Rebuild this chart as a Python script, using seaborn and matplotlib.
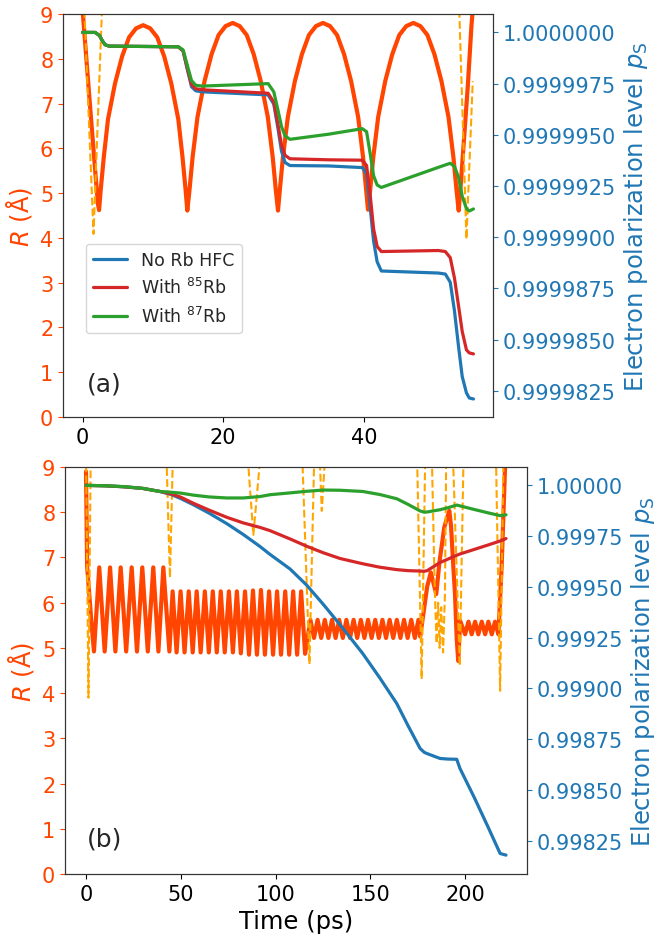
import numpy as np
import pandas as pd
import matplotlib
matplotlib.use("Agg")
import matplotlib.pyplot as plt
import seaborn as sns
from matplotlib.ticker import MultipleLocator, FormatStrFormatter

# ---------------- data : panel (a) ----------------
r_a_time = [0.0, 1.0, 1.9, 2.2, 2.35,
            2.57, 3.02, 3.62, 4.62, 5.62, 6.62, 7.62, 8.62,
            9.62, 10.62, 11.62, 12.62, 13.62, 14.22, 14.67, 14.9,
            15.2, 15.65, 16.35, 17.35, 18.35, 19.35, 20.35, 21.35,
            22.35, 23.35, 24.35, 25.35, 26.35, 27.05, 27.5, 27.8,
            28.05, 28.5, 29.2, 30.2, 31.2, 32.2, 33.2, 34.2,
            35.2, 36.2, 37.2, 38.2, 39.2, 39.9, 40.35, 40.6,
            40.9, 41.35, 42.05, 43.05, 44.05, 45.05, 46.05, 47.05,
            48.05, 49.05, 50.05, 51.05, 52.05, 52.75, 53.2, 53.5,
            53.8, 54.3, 54.8, 55.3, 55.6]
r_a_value = [9.1, 7.08, 5.3, 4.75, 4.62,
             5.05, 5.8, 6.65, 7.45, 8.05, 8.48, 8.68, 8.75,
             8.68, 8.48, 8.05, 7.45, 6.65, 5.8, 5.05, 4.61,
             5.05, 5.8, 6.70, 7.50, 8.10, 8.53, 8.73, 8.80,
             8.73, 8.53, 8.10, 7.50, 6.70, 5.80, 5.05, 4.61,
             5.05, 5.8, 6.70, 7.50, 8.10, 8.53, 8.73, 8.80,
             8.73, 8.53, 8.10, 7.50, 6.70, 5.80, 5.05, 4.63,
             5.05, 5.8, 6.70, 7.50, 8.10, 8.53, 8.73, 8.80,
             8.73, 8.53, 8.10, 7.50, 6.70, 5.80, 5.05, 4.61,
             5.2, 6.3, 7.4, 8.7, 9.3]

dash_a_time = [0.0, 0.28, 1.56, 2.74, 3.0, 53.3, 53.6, 54.6, 55.5]
dash_a_value = [10.1, 9.0, 4.09, 9.0, 10.0, 10.0, 9.0, 3.97, 7.5]

# polarization deficit (1 - p_S) in units of 1e-6
pol_a_time = [0.0, 1.8, 2.4, 2.8, 3.2, 3.8, 13.6, 14.3, 14.9, 15.5, 16.1, 17.0,
              26.4, 27.2, 27.8, 28.3, 28.8, 29.5, 35.0, 39.8, 40.4, 40.9, 41.4,
              41.9, 42.5, 50.6, 51.6, 52.3, 52.9, 53.5, 54.0, 54.6, 55.0, 55.6]
pol_a_blue_deficit = [0, 0, 0.15, 0.4, 0.6, 0.67, 0.70, 0.9, 1.8, 2.65, 2.85, 2.9,
                      3.05, 3.5, 4.7, 5.8, 6.35, 6.5, 6.52, 6.6, 6.9, 8.5, 10.2,
                      11.2, 11.65, 11.75, 11.8, 12.2, 13.6, 15.4, 16.8, 17.6, 17.85, 17.9]
pol_a_red_deficit = [0, 0, 0.15, 0.4, 0.6, 0.67, 0.70, 0.9, 1.75, 2.55, 2.75, 2.8,
                     2.97, 3.4, 4.5, 5.5, 6.0, 6.17, 6.22, 6.24, 6.5, 7.9, 9.6,
                     10.45, 10.7, 10.65, 10.7, 11.0, 12.0, 13.4, 14.6, 15.5, 15.65, 15.7]
pol_a_green_deficit = [0, 0, 0.15, 0.4, 0.6, 0.67, 0.70, 0.85, 1.6, 2.35, 2.58, 2.62,
                       2.5, 2.9, 3.8, 4.6, 5.05, 5.22, 4.97, 4.7, 4.85, 5.9, 7.0,
                       7.45, 7.57, 6.59, 6.47, 6.39, 6.55, 7.1, 8.0, 8.6, 8.72, 8.62]

# ---------------- data : panel (b) ----------------
r_b_time = [0.0, 0.6, 2.8, 4.2,
            7.0, 9.85, 12.7, 15.5, 18.3, 21.2, 24.1, 26.9, 29.7, 32.6, 35.5, 38.2, 40.8, 44.0,
            45.7, 47.8, 49.9, 52.0, 54.2, 56.3, 58.4, 60.5, 62.7, 64.8, 66.9, 69.0,
            71.1, 73.2, 75.4, 77.5, 79.6, 81.7, 83.9, 86.0, 88.1, 90.2, 92.3, 94.4,
            96.6, 98.7, 100.8, 102.9, 105.1, 107.2, 109.3, 111.4, 113.5, 115.6,
            118.4, 120.3, 122.2, 124.1, 126.0, 127.9, 129.8, 131.7, 133.6, 135.5,
            137.4, 139.3, 141.2, 143.1, 145.0, 146.9, 148.8, 150.7, 152.6, 154.5,
            156.4, 158.3, 160.2, 162.1, 164.0, 165.9, 167.8, 169.7, 171.6, 173.5, 175.4,
            176.3, 178.0, 180.0, 181.9, 184.8, 186.5, 187.8, 189.0, 190.3, 191.7,
            192.6, 193.8, 194.7, 195.6, 196.4, 197.4,
            200.0, 201.8, 203.5, 205.3, 207.0, 208.8, 210.6, 212.3, 214.1, 215.8,
            217.6, 219.3, 221.1, 221.6]
r_b_value = [8.9, 6.8, 5.6, 4.92,
             6.78, 4.92, 6.78, 4.92, 6.78, 4.92, 6.78, 4.92, 6.78, 4.92, 6.78, 4.92, 6.78, 4.92,
             6.25, 4.9, 6.25, 4.9, 6.25, 4.9, 6.25, 4.9, 6.25, 4.9, 6.25, 4.9,
             6.25, 4.9, 6.25, 4.9, 6.25, 4.88, 6.25, 4.85, 6.27, 4.85, 6.28, 4.85,
             6.25, 4.85, 6.25, 4.85, 6.25, 4.85, 6.25, 4.85, 6.25, 4.87,
             5.62, 5.22, 5.62, 5.22, 5.62, 5.22, 5.62, 5.22, 5.62, 5.22,
             5.62, 5.22, 5.62, 5.22, 5.62, 5.22, 5.62, 5.22, 5.62, 5.22,
             5.62, 5.22, 5.62, 5.22, 5.62, 5.22, 5.62, 5.22, 5.62, 5.22, 5.62,
             5.25, 5.75, 6.35, 6.67, 6.19, 6.9, 7.29, 7.66, 7.85, 8.03,
             7.7, 6.8, 6.19, 5.2, 4.71, 5.6,
             5.3, 5.58, 5.3, 5.58, 5.3, 5.58, 5.3, 5.58, 5.3, 5.58,
             5.3, 6.8, 9.0, 9.6]

dash_b_time = [0.0, 1.3, 2.5, 3.0,
               42.0, 42.6, 44.3, 45.7, 46.2,
               85.2, 85.7, 88.3, 91.5, 92.0,
               113.8, 114.3, 117.9, 120.3, 121.0,
               123.0, 123.5, 124.4, 125.8, 126.3,
               174.3, 174.8, 177.1, 178.9, 179.4,
               182.0, 182.6, 184.0, 185.0, 185.8, 186.6, 187.4, 188.4, 189.4, 190.0, 190.5,
               193.3, 193.8, 197.2, 199.1, 199.6,
               215.9, 216.4, 218.5, 220.2, 220.7, 221.6]
dash_b_value = [9.3, 3.9, 9.3, 10.0,
                10.0, 9.0, 6.55, 9.0, 10.0,
                10.0, 9.0, 7.5, 9.0, 10.0,
                10.0, 9.0, 4.64, 9.0, 10.0,
                10.0, 9.0, 8.03, 9.0, 10.0,
                10.0, 9.0, 4.31, 9.0, 10.0,
                10.0, 9.0, 6.3, 5.1, 6.0, 5.0, 5.9, 4.9, 6.2, 9.0, 10.0,
                10.0, 9.0, 4.6, 9.0, 10.0,
                10.0, 9.0, 4.05, 9.0, 10.0, 10.0]

pol_b_time = [0, 10, 20, 30, 39, 45, 50, 56.6, 65, 74.2, 83, 91.8, 97.1, 107.7,
              116.5, 125.2, 134, 146, 155, 164, 170, 176.3, 178.5, 180, 186.8,
              191, 195.6, 197.3, 205, 212, 218.5, 221.6]
pol_b_blue = [1.0, 0.999998, 0.999993, 0.999985, 0.99997, 0.999955, 0.999935, 0.999905,
              0.999863, 0.999812, 0.999758, 0.999699, 0.99966, 0.999588, 0.999508,
              0.999414, 0.999314, 0.999172, 0.999052, 0.998925, 0.998815, 0.998704,
              0.998685, 0.998679, 0.998655, 0.998652, 0.998651, 0.998606, 0.99846,
              0.99832, 0.998187, 0.998179]
pol_b_red = [1.0, 0.999998, 0.999993, 0.999985, 0.99997, 0.999958, 0.999942, 0.999912,
             0.999878, 0.999843, 0.999815, 0.999793, 0.999777, 0.999736, 0.9997,
             0.999668, 0.999640, 0.999614, 0.999597, 0.999585, 0.99958, 0.999578,
             0.999577, 0.99958, 0.99962, 0.999637, 0.999656, 0.999662, 0.999685,
             0.999706, 0.999726, 0.999738]
pol_b_green = [1.0, 0.999998, 0.999994, 0.999985, 0.99997, 0.999966, 0.999962, 0.999952,
               0.999943, 0.999938, 0.999938, 0.999945, 0.999954, 0.999963, 0.999971,
               0.999977, 0.999976, 0.99997, 0.999955, 0.999934, 0.999906, 0.999874,
               0.999868, 0.999869, 0.99988, 0.99989, 0.999903, 0.999899, 0.999881,
               0.999865, 0.999851, 0.999855]

legend_labels = ["No Rb HFC", "With $^{85}$Rb", "With $^{87}$Rb"]

# ---------------- style ----------------
ORANGERED = "#ff4500"
ORANGE = "#ffa500"
BLUE = "#1f77b4"
RED = "#d62728"
GREEN = "#2ca02c"

sns.set_theme(style="ticks", rc={
    "xtick.major.size": 3.5, "ytick.major.size": 3.5,
    "xtick.major.width": 0.8, "ytick.major.width": 0.8,
    "axes.linewidth": 0.8, "axes.edgecolor": "0.2",
})
plt.rcParams["font.family"] = ["DejaVu Sans"]
plt.rcParams["mathtext.fontset"] = "dejavusans"

TICK = 15
LABEL = 17.5

fig = plt.figure(figsize=(6.56, 9.37), dpi=100)
axA = fig.add_axes([63 / 656, 1 - 418 / 937, 430 / 656, 403 / 937])
axB = fig.add_axes([65 / 656, 1 - 875 / 937, 462 / 656, 407 / 937])


def line(ax, x, y, **kw):
    sns.lineplot(x=x, y=y, ax=ax, estimator=None, sort=False, legend=False, **kw)


def panel(ax, r_t, r_v, d_t, d_v, p_t, p_blue, p_red, p_green, xlim, ylim2,
          ystep, yfmt, xticks, tag, tagpos):
    line(ax, r_t, r_v, color=ORANGERED, linewidth=3.0)
    line(ax, d_t, d_v, color=ORANGE, linewidth=1.5, linestyle="--")
    ax.set_ylim(0, 9)
    ax.set_yticks(range(0, 10))
    ax.set_xlim(*xlim)
    ax.set_xticks(xticks)
    ax.set_ylabel(r"$R$ (Å)", color=ORANGERED, fontsize=LABEL)
    ax.tick_params(axis="y", colors=ORANGERED, labelsize=TICK)
    ax.tick_params(axis="x", labelsize=TICK, colors="black")
    ax.text(tagpos[0], tagpos[1], tag, transform=ax.transAxes, fontsize=18,
            va="center", ha="left")

    ax2 = ax.twinx()
    line(ax2, p_t, p_blue, color=BLUE, linewidth=2.3, label=legend_labels[0])
    line(ax2, p_t, p_red, color=RED, linewidth=2.3, label=legend_labels[1])
    line(ax2, p_t, p_green, color=GREEN, linewidth=2.3, label=legend_labels[2])
    ax2.set_xlim(*xlim)
    ax2.set_ylim(*ylim2)
    ax2.yaxis.set_major_locator(MultipleLocator(ystep))
    ax2.yaxis.set_major_formatter(FormatStrFormatter(yfmt))
    ax2.tick_params(axis="y", colors=BLUE, labelsize=TICK)
    ax2.set_ylabel(r"Electron polarization level $p_\mathrm{S}$", color=BLUE,
                   fontsize=LABEL)
    for s in ax2.spines.values():
        s.set_color("0.2")
    return ax2


axA2 = panel(axA, r_a_time, r_a_value, dash_a_time, dash_a_value, pol_a_time,
             1 - np.array(pol_a_blue_deficit) * 1e-6,
             1 - np.array(pol_a_red_deficit) * 1e-6,
             1 - np.array(pol_a_green_deficit) * 1e-6,
             (-2.78, 58.38), (0.99998122, 1.0000009), 2.5e-6, "%.7f",
             [0, 20, 40], "(a)", (0.055, 0.082))

axB2 = panel(axB, r_b_time, r_b_value, dash_b_time, dash_b_value, pol_b_time,
             pol_b_blue, pol_b_red, pol_b_green,
             (-11.08, 232.68), (0.998086, 1.0000905), 2.5e-4, "%.5f",
             [0, 50, 100, 150, 200], "(b)", (0.048, 0.086))
axB.set_xlabel("Time (ps)", fontsize=LABEL, color="black")

handles = axA2.get_lines()[:3]
leg = axA2.legend(handles, legend_labels, loc="upper left",
                  bbox_to_anchor=(0.053, 0.43), borderaxespad=0, fontsize=12.5,
                  frameon=True, framealpha=0.8, edgecolor="0.8", fancybox=True)
if axB2.get_legend() is not None:
    axB2.get_legend().remove()

fig.savefig("out.png", dpi=100)
